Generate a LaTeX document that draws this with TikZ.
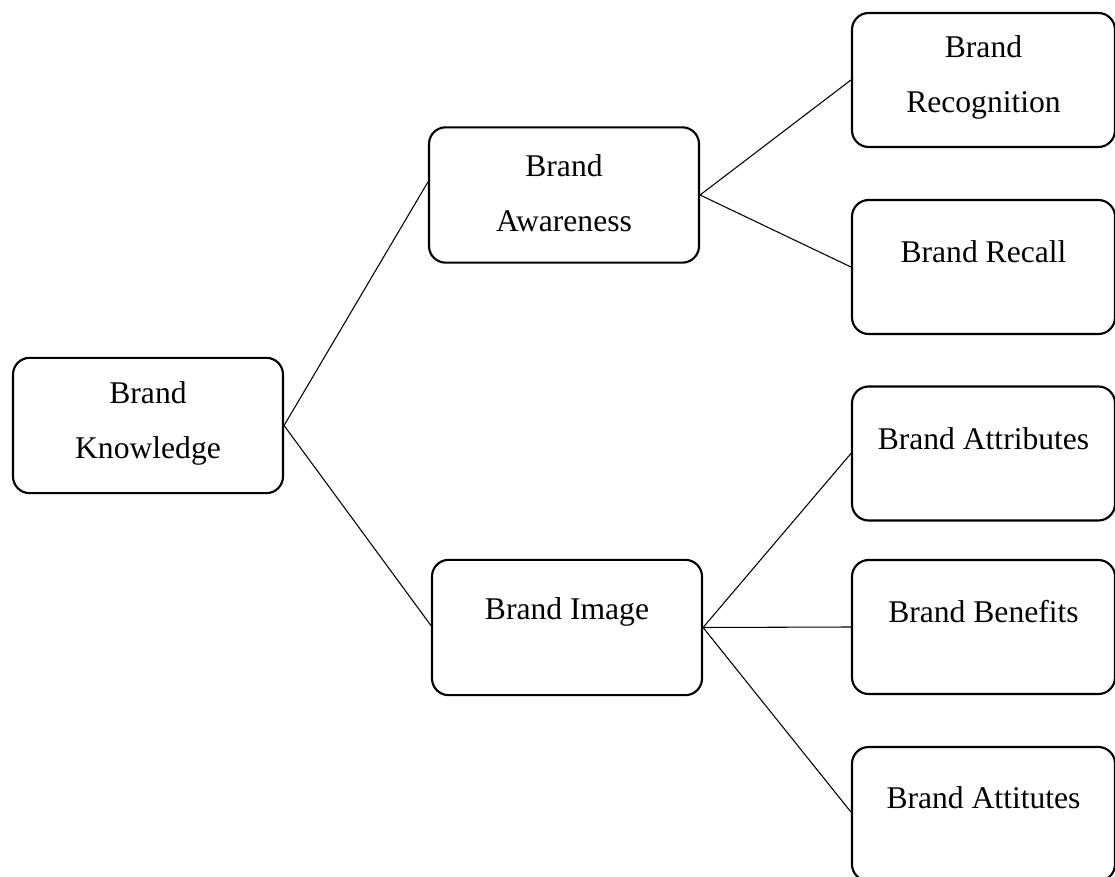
\documentclass[tikz,border=0pt]{standalone}
\usepackage{fontspec}
\setmainfont{Liberation Serif}
\begin{document}
\begin{tikzpicture}[x=0.75pt,y=-0.75pt,
  box/.style={draw=black,line width=1.6pt,rounded corners=12.5pt,rectangle,inner sep=0pt},
  leftbox/.style={box,minimum width=202.5pt,minimum height=101.5pt},
  rightbox/.style={box,minimum width=197.25pt,minimum height=100.5pt},
  label/.style={font=\fontsize{23.7pt}{41.25pt}\selectfont,align=center,inner sep=0pt},
  link/.style={draw=black,line width=0.8pt}]
\useasboundingbox (0,0) rectangle (1115,877);

% boxes
\node[leftbox] (k) at (148,425.5) {};
\node[leftbox] (aw) at (564,195) {};
\node[leftbox] (im) at (567,627.5) {};
\node[rightbox] (rec) at (983.5,80) {};
\node[rightbox] (rcl) at (983.5,267) {};
\node[rightbox] (atr) at (983.5,453.5) {};
\node[rightbox] (ben) at (983.5,627) {};
\node[rightbox] (att) at (983.5,814) {};

% texts, set near the top of each box
\node[label] (kt) at ([yshift=-49.9pt]k.north) {Brand\\Knowledge};
\node[label] (awt) at ([yshift=-49.9pt]aw.north) {Brand\\Awareness};
\node[label] (imt) at ([yshift=-39.75pt]im.north) {Brand Image};
\node[label] (rect) at ([yshift=-49.4pt]rec.north) {Brand\\Recognition};
\node[label] (rclt) at ([yshift=-39.75pt]rcl.north) {Brand Recall};
\node[label] (atrt) at ([yshift=-39.75pt]atr.north) {Brand Attributes};
\node[label] (bent) at ([yshift=-39.75pt]ben.north) {Brand Benefits};
\node[label] (attt) at ([yshift=-39pt]att.north) {Brand Attitutes};

% connectors
\draw[link] (k.east) -- ([yshift=9.75pt]aw.west);
\draw[link] (k.east) -- ([yshift=1.5pt]im.west);
\draw[link] (aw.east) -- (rec.west);
\draw[link] (aw.east) -- (rcl.west);
\draw[link] (im.east) -- (atr.west);
\draw[link] (im.east) -- (ben.west);
\draw[link] (im.east) -- ([yshift=1.5pt]att.west);
\end{tikzpicture}
\end{document}
